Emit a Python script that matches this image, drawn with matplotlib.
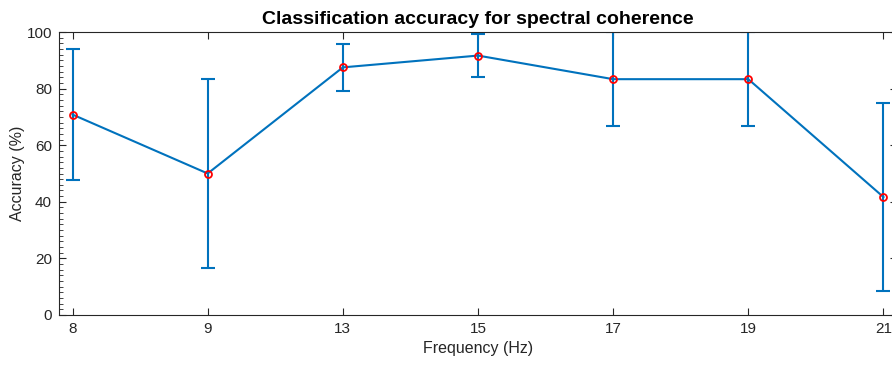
import matplotlib
matplotlib.use("Agg")
import matplotlib.pyplot as plt
from matplotlib.ticker import MultipleLocator

plt.rcParams['font.family'] = ['Liberation Sans', 'DejaVu Sans']

freq_labels = ['8', '9', '13', '15', '17', '19', '21']
accuracy = [70.83, 50.0, 87.5, 91.67, 83.33, 83.33, 41.67]
error = [23.3, 33.33, 8.33, 7.6, 16.67, 16.67, 33.33]

blue = '#0072BD'
axcol = '#262626'

fig = plt.figure(figsize=(8.92, 3.65), dpi=100)
# axes box runs slightly past the right edge of the figure
ax = fig.add_axes([59 / 892, 50 / 365, (897 - 59) / 892, (315 - 32) / 365])

x = list(range(1, len(freq_labels) + 1))
ax.errorbar(x, accuracy, yerr=error, color=blue, lw=1.5, elinewidth=1.5,
            capsize=4.8, capthick=1.5, zorder=2)
ax.plot(x, accuracy, 'o', ms=5, mfc='none', mec='#FF0000', mew=1.3, zorder=3)

ax.set_xlim(0.9, 7.1)
ax.set_ylim(0, 100)
ax.set_xticks(x)
ax.set_xticklabels(freq_labels)
ax.set_yticks(range(0, 101, 20))
ax.yaxis.set_minor_locator(MultipleLocator(2))

for s in ax.spines.values():
    s.set_color(axcol)
    s.set_linewidth(0.8)
ax.tick_params(which='both', direction='in', top=True, right=True,
               colors=axcol, labelsize=11)
ax.tick_params(which='major', length=5, width=0.8, pad=5)
ax.tick_params(which='minor', length=3, width=0.6)

ax.set_title('Classification accuracy for spectral coherence',
             fontsize=14, fontweight='bold', color='black', pad=6)
ax.set_xlabel('Frequency (Hz)', fontsize=11.5, color=axcol, labelpad=4)
ax.set_ylabel('Accuracy (%)', fontsize=11.5, color=axcol, labelpad=1)

fig.savefig('out.png', dpi=100)
